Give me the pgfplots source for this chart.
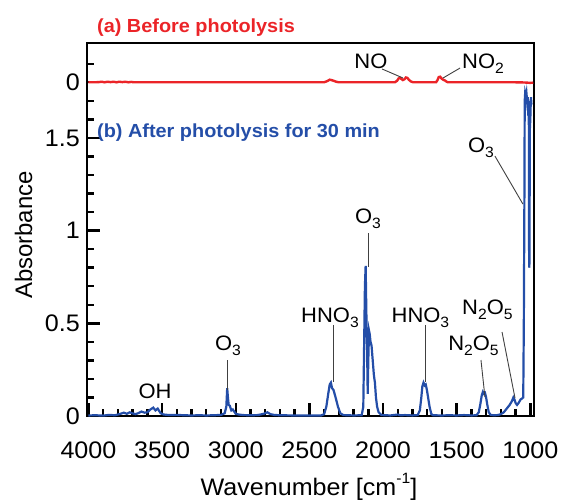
\documentclass[border=0pt]{standalone}
\usepackage{fontspec}
\setmainfont{Liberation Sans}[FakeStretch=1.05]
\newfontfamily\plainsans{Liberation Sans}
\usepackage{pgfplots}
\pgfplotsset{compat=1.18}
\definecolor{specred}{RGB}{235,36,40}
\definecolor{specblue}{RGB}{36,78,168}
\newcommand{\sub}[1]{\raisebox{-5bp}{\fontsize{15}{15}\selectfont #1}}
\begin{document}
\begin{tikzpicture}
\begin{axis}[
 scale only axis, width=447bp, height=373bp,
 x dir=reverse, xmin=975, xmax=4010, ymin=0, ymax=2.012,
 clip=false,
 axis line style={line width=2.4bp},
 tick align=inside, xtick pos=bottom, ytick pos=left,
 major tick length=13bp, minor tick length=7bp,
 tick style={line width=2.4bp, black},
 xtick={1000,1500,2000,2500,3000,3500,4000},
 xticklabels={1000,1500,2000,2500,3000,3500,4000},
 minor xtick={1100,1200,1300,1400,1600,1700,1800,1900,2100,2200,2300,2400,2600,2700,2800,2900,3100,3200,3300,3400,3600,3700,3800,3900},
 ytick={0,0.5,1,1.5,1.8},
 yticklabels={0,0.5,1,1.5,0},
 minor ytick={0.1,0.2,0.3,0.4,0.6,0.7,0.8,0.9,1.1,1.2,1.3,1.4,1.6,1.7,1.9},
 /pgf/number format/assume math mode=true,
 xticklabel style={font=\fontsize{24}{28}\selectfont, inner sep=0pt, anchor=north, yshift=-26bp},
 yticklabel style={font=\fontsize{24}{28}\selectfont, inner sep=0pt, anchor=east, xshift=-7bp},
 xlabel={Wavenumber [cm\raisebox{12bp}{\fontsize{15}{15}\selectfont -1}]},
 ylabel={Absorbance},
 xlabel style={font=\fontsize{24}{28}\selectfont, at={(rel axis cs:0.4966,-0.212)}, anchor=base},
 ylabel style={font=\plainsans\fontsize{24}{28}\selectfont, at={(rel axis cs:-0.123,0.4853)}, anchor=base},
]
\path (rel axis cs:-0.19463,-0.22788) rectangle (rel axis cs:1.06488,1.11528);
% (a) before photolysis, offset baseline at 1.8
\addplot[specred, line width=2.4bp] coordinates {
(4000,1.800) (3960,1.800) (3930,1.801) (3910,1.803) (3890,1.800) (3870,1.803)
(3850,1.801) (3830,1.803) (3810,1.800) (3790,1.803) (3770,1.801) (3750,1.803)
(3730,1.800) (3710,1.802) (3690,1.800) (3650,1.800) (3200,1.800) (2800,1.800)
(2400,1.800) (2380,1.806) (2362,1.814) (2350,1.812) (2335,1.808) (2318,1.803)
(2300,1.800) (1920,1.800) (1905,1.808) (1895,1.820) (1885,1.824) (1875,1.818)
(1865,1.812) (1855,1.816) (1845,1.826) (1835,1.824) (1825,1.814) (1810,1.804)
(1795,1.800) (1640,1.800) (1630,1.812) (1622,1.828) (1612,1.830) (1602,1.820)
(1592,1.814) (1580,1.810) (1570,1.804) (1560,1.800) (1100,1.800) (1040,1.799)
(1000,1.797) (980,1.798)
};
% (b) after photolysis for 30 min
\addplot[specblue, line width=2.2bp] coordinates {
(4000,0.003) (3950,0.004) (3900,0.002) (3860,0.006) (3820,0.004) (3790,0.010)
(3760,0.018) (3740,0.012) (3720,0.020) (3700,0.014) (3680,0.010) (3660,0.016)
(3640,0.024) (3620,0.018) (3600,0.020) (3580,0.035) (3560,0.045) (3545,0.030)
(3530,0.040) (3510,0.015) (3490,0.008) (3450,0.005) (3400,0.006) (3350,0.004)
(3300,0.003) (3250,0.004) (3200,0.003) (3150,0.004) (3100,0.006) (3075,0.015)
(3064,0.050) (3058,0.150) (3053,0.100) (3048,0.060) (3040,0.055) (3030,0.030)
(3020,0.035) (3000,0.012) (2980,0.008) (2950,0.005) (2900,0.004) (2850,0.005)
(2810,0.012) (2785,0.020) (2765,0.010) (2740,0.006) (2700,0.004) (2600,0.003)
(2500,0.003) (2420,0.003) (2400,0.010) (2385,0.050) (2372,0.120) (2362,0.170)
(2354,0.180) (2346,0.150) (2336,0.140) (2322,0.100) (2306,0.050) (2290,0.015)
(2270,0.005) (2200,0.003) (2145,0.004) (2134,0.050) (2128,0.400) (2123,0.700)
(2118,0.810) (2113,0.550) (2108,0.350) (2104,0.120) (2100,0.300) (2095,0.460)
(2090,0.440) (2085,0.400) (2078,0.380) (2070,0.300) (2062,0.220) (2055,0.180)
(2048,0.100) (2040,0.050) (2030,0.020) (2010,0.005) (1950,0.003) (1900,0.008)
(1880,0.004) (1850,0.005) (1800,0.003) (1765,0.005) (1750,0.030) (1740,0.100)
(1733,0.160) (1725,0.180) (1717,0.165) (1710,0.170) (1702,0.140) (1694,0.100)
(1684,0.050) (1672,0.010) (1660,0.004) (1600,0.003) (1550,0.004) (1500,0.003)
(1450,0.005) (1400,0.003) (1365,0.004) (1350,0.020) (1340,0.060) (1330,0.110)
(1322,0.130) (1315,0.120) (1308,0.125) (1300,0.100) (1292,0.060) (1282,0.020)
(1270,0.006) (1250,0.004) (1220,0.005) (1200,0.010) (1180,0.020) (1160,0.040)
(1140,0.060) (1125,0.080) (1115,0.100) (1108,0.090) (1100,0.070) (1090,0.060)
(1080,0.070) (1065,0.090) (1055,0.095) (1048,0.100) (1044,0.500) (1040,1.200)
(1038,1.700) (1035,1.740) (1030,1.720) (1026,1.740) (1022,1.700) (1018,1.720)
(1014,1.620) (1012,1.700) (1010,1.600) (1008,0.800) (1006,0.820) (1003,1.550)
(1000,1.600) (996,1.720) (992,1.680)
};
% panel titles
\node[anchor=base west, font=\fontsize{19}{23}\selectfont\bfseries, text=specred, inner sep=0pt] at (axis cs:3942,2.066) {(a) Before photolysis};
\node[anchor=base west, font=\fontsize{19}{23}\selectfont\bfseries, text=specblue, inner sep=0pt] at (axis cs:3942,1.50) {(b) After photolysis for 30 min};
% annotations
\begin{scope}[every node/.style={font=\fontsize{21}{25}\selectfont, inner sep=0pt, anchor=base}]
\node at (axis cs:2082,1.872) {NO};
\node at (axis cs:1321,1.872) {NO\sub{2}};
\node at (axis cs:3548,0.097) {OH};
\node at (axis cs:3053,0.356) {O\sub{3}};
\node at (axis cs:2360,0.502) {HNO\sub{3}};
\node at (axis cs:2102,1.036) {O\sub{3}};
\node at (axis cs:1746,0.502) {HNO\sub{3}};
\node at (axis cs:1291,0.545) {N\sub{2}O\sub{5}};
\node at (axis cs:1386,0.356) {N\sub{2}O\sub{5}};
\node at (axis cs:1335,1.419) {O\sub{3}};
\end{scope}
\begin{scope}[black!75, line width=0.9bp]
\draw (axis cs:2007,1.872) -- (axis cs:1864,1.823);
\draw (axis cs:1477,1.877) -- (axis cs:1593,1.823);
\draw (axis cs:3053,0.302) -- (axis cs:3053,0.140);
\draw (axis cs:2340,0.491) -- (axis cs:2340,0.183);
\draw (axis cs:2102,0.987) -- (axis cs:2102,0.804);
\draw (axis cs:1715,0.491) -- (axis cs:1715,0.183);
\draw (axis cs:1192,0.453) -- (axis cs:1104,0.097);
\draw (axis cs:1335,0.302) -- (axis cs:1308,0.102);
\draw (axis cs:1240,1.402) -- (axis cs:1050,1.143);
\end{scope}
\end{axis}
\end{tikzpicture}
\end{document}
